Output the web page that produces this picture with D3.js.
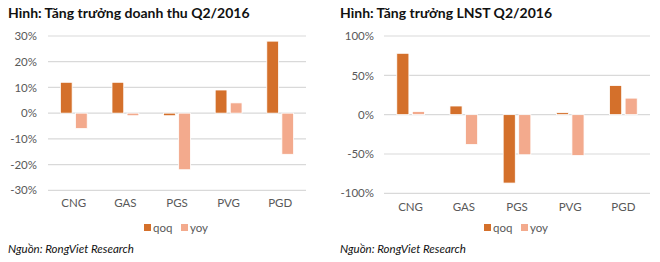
<!DOCTYPE html>
<html>
<head>
<meta charset="utf-8">
<script src="https://cdn.jsdelivr.net/npm/d3@7"></script>
<style>
  body { margin: 0; background: #fff; }
  text { font-family: Lato, "Open Sans", sans-serif; }
</style>
</head>
<body>
<script>
// categories and series
var categories = ["CNG", "GAS", "PGS", "PVG", "PGD"];
var seriesNames = ["qoq", "yoy"];

// revenue growth, Q2/2016
var revQoq = [0.12, 0.12, -0.01, 0.09, 0.28];
var revYoy = [-0.06, -0.01, -0.22, 0.04, -0.16];
var revTicks = [-0.3, -0.2, -0.1, 0, 0.1, 0.2, 0.3];

// net profit growth, Q2/2016
var npQoq = [0.78, 0.11, -0.87, 0.025, 0.37];
var npYoy = [0.04, -0.38, -0.51, -0.52, 0.21];
var npTicks = [-1, -0.5, 0, 0.5, 1];

var colors = {qoq: "#d4702b", yoy: "#f3aa8d"};

var svg = d3.select("body").append("svg")
    .attr("width", 660)
    .attr("height", 262);

function drawChart(o) {
  var g = svg.append("g");

  // title
  g.append("text")
      .attr("x", o.left0)
      .attr("y", 18)
      .attr("font-size", 14)
      .attr("font-weight", "bold")
      .attr("fill", "#111")
      .text(o.title);

  var y = d3.scaleLinear().domain(o.domain).range([o.bottom, o.top]);
  var x = d3.scaleBand().domain(categories).range([o.x0, o.x1]).paddingInner(0.48).paddingOuter(0.24);
  var x1 = d3.scaleBand().domain(seriesNames).range([0, x.bandwidth()]).paddingInner(0.22);

  // grid lines
  g.append("g").selectAll("line")
    .data(o.ticks)
    .enter().append("line")
      .attr("x1", o.x0).attr("x2", o.x1)
      .attr("y1", function(d) { return y(d); })
      .attr("y2", function(d) { return y(d); })
      .attr("stroke", "#d9d9d9")
      .attr("stroke-width", 1.2);

  // y axis labels (plain hyphen for negatives, like the original)
  var yAxis = g.append("g")
      .attr("transform", "translate(" + o.labelX + ",0)")
      .call(d3.axisLeft(y).tickValues(o.ticks).tickSize(0).tickPadding(0)
        .tickFormat(function(d) { return Math.round(d * 100) + "%"; }));
  yAxis.select(".domain").remove();
  yAxis.selectAll("text")
      .attr("font-size", 11.5)
      .attr("font-family", "Lato, sans-serif")
      .attr("fill", "#595959");

  // bars
  var rows = categories.map(function(c, i) {
    return {cat: c, qoq: o.qoq[i], yoy: o.yoy[i]};
  });
  var grp = g.append("g").selectAll("g")
    .data(rows)
    .enter().append("g")
      .attr("transform", function(d) { return "translate(" + x(d.cat) + ",0)"; });
  grp.selectAll("rect")
    .data(function(d) { return seriesNames.map(function(s) { return {s: s, v: d[s]}; }); })
    .enter().append("rect")
      .attr("x", function(d) { return x1(d.s); })
      .attr("width", x1.bandwidth())
      .attr("y", function(d) { return y(Math.max(0, d.v)); })
      .attr("height", function(d) { return Math.abs(y(d.v) - y(0)); })
      .attr("fill", function(d) { return colors[d.s]; })
      .attr("stroke", "#fff")
      .attr("stroke-width", 0.8);

  // category labels
  var xAxis = g.append("g")
      .attr("transform", "translate(0," + o.catY + ")")
      .call(d3.axisBottom(x).tickSize(0).tickPadding(0));
  xAxis.select(".domain").remove();
  xAxis.selectAll("text")
      .attr("font-size", 11.5)
      .attr("font-family", "Lato, sans-serif")
      .attr("fill", "#595959");

  // legend
  var leg = g.append("g").selectAll("g")
    .data(seriesNames)
    .enter().append("g")
      .attr("transform", function(d, i) { return "translate(" + (o.legendX + i * 37) + ",224)"; });
  leg.append("rect")
      .attr("width", 7).attr("height", 7)
      .attr("y", 0)
      .attr("fill", function(d) { return colors[d]; });
  leg.append("text")
      .attr("x", 9)
      .attr("y", 7.5)
      .attr("font-size", 11.5)
      .attr("fill", "#595959")
      .text(function(d) { return d; });

  // source
  g.append("text")
      .attr("x", o.left0)
      .attr("y", 253)
      .attr("font-size", 11.5)
      .attr("font-style", "italic")
      .attr("fill", "#111")
      .text("Nguồn: RongViet Research");
}

drawChart({
  title: "Hình: Tăng trưởng doanh thu Q2/2016",
  left0: 8, x0: 48, x1: 306, top: 36, bottom: 190.3, labelX: 37,
  domain: [-0.3, 0.3], ticks: revTicks, qoq: revQoq, yoy: revYoy,
  catY: 199, legendX: 144
});

drawChart({
  title: "Hình: Tăng trưởng LNST Q2/2016",
  left0: 340, x0: 384, x1: 650, top: 36, bottom: 193.3, labelX: 374,
  domain: [-1, 1], ticks: npTicks, qoq: npQoq, yoy: npYoy,
  catY: 203, legendX: 484
});
</script>
</body>
</html>
